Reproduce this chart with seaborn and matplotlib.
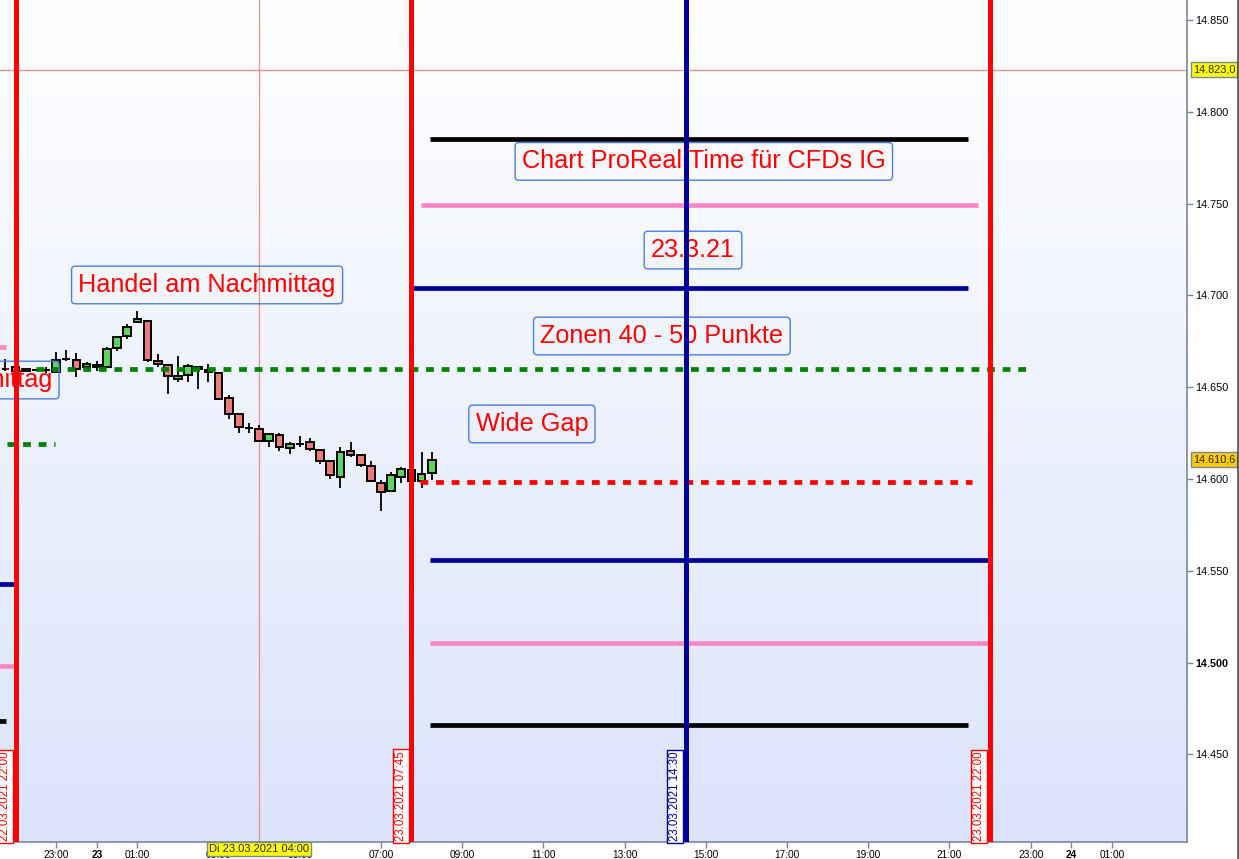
import numpy as np
import matplotlib
matplotlib.use('Agg')
import matplotlib.pyplot as plt
import seaborn as sns
from matplotlib.colors import LinearSegmentedColormap
from matplotlib.lines import Line2D

# 15 min candles, DAX CFD (IG) 22.03.2021 21:45 -> 23.03.2021 08:15
candle_time = ['22 21:45', '22 22:00', '22 22:15', '22 22:30', '22 22:45', '22 23:00', '22 23:15', '22 23:30', '22 23:45',
               '23 00:00', '23 00:15', '23 00:30', '23 00:45', '23 01:00', '23 01:15', '23 01:30', '23 01:45',
               '23 02:00', '23 02:15', '23 02:30', '23 02:45', '23 03:00', '23 03:15', '23 03:30', '23 03:45',
               '23 04:00', '23 04:15', '23 04:30', '23 04:45', '23 05:00', '23 05:15', '23 05:30', '23 05:45',
               '23 06:00', '23 06:15', '23 06:30', '23 06:45', '23 07:00', '23 07:15', '23 07:30', '23 07:45',
               '23 08:00', '23 08:15']
opens = [14660.0, 14661.0, 14658.8, 14659.4, 14659.4, 14658.3, 14665.4, 14664.8, 14661.0,
         14661.0, 14661.0, 14671.4, 14677.9, 14685.5, 14686.1, 14664.3, 14662.1,
         14654.5, 14656.6, 14661.0, 14659.4, 14657.7, 14644.1, 14635.4, 14627.8,
         14627.2, 14620.7, 14624.0, 14616.9, 14619.1, 14620.2, 14615.8, 14609.8,
         14601.1, 14615.3, 14613.1, 14607.1, 14597.8, 14593.5, 14601.1, 14604.9,
         14598.9, 14603.3]
highs = [14665.4, 14661.5, 14660.2, 14660.0, 14661.0, 14669.2, 14670.3, 14668.6, 14664.0,
         14664.3, 14671.9, 14677.9, 14684.4, 14691.5, 14686.5, 14668.1, 14662.6,
         14667.0, 14662.6, 14661.6, 14662.6, 14658.0, 14645.8, 14635.6, 14630.5,
         14629.4, 14625.0, 14625.1, 14620.2, 14623.5, 14622.3, 14616.0, 14610.0,
         14617.4, 14620.2, 14613.3, 14609.8, 14599.5, 14603.8, 14606.5, 14606.0,
         14614.7, 14614.7]
lows = [14659.0, 14658.5, 14658.6, 14658.8, 14657.7, 14658.0, 14664.3, 14655.6, 14659.9,
        14658.8, 14660.5, 14669.7, 14676.3, 14685.0, 14663.7, 14661.0, 14646.3,
        14652.8, 14652.8, 14649.0, 14652.8, 14643.0, 14632.7, 14625.1, 14625.1,
        14620.5, 14617.4, 14615.3, 14613.6, 14617.4, 14615.3, 14608.2, 14600.0,
        14595.1, 14612.0, 14606.5, 14598.7, 14582.6, 14593.3, 14598.0, 14597.5,
        14595.1, 14599.5]
closes = [14659.8, 14658.8, 14659.9, 14659.3, 14659.5, 14664.8, 14665.2, 14659.9, 14662.6,
          14662.1, 14670.8, 14677.3, 14682.8, 14687.1, 14664.8, 14662.6, 14656.1,
          14656.1, 14661.6, 14659.9, 14658.3, 14643.6, 14635.4, 14628.3, 14627.6,
          14620.7, 14624.5, 14617.4, 14619.1, 14619.0, 14616.3, 14609.8, 14602.2,
          14614.7, 14613.1, 14607.6, 14598.9, 14592.9, 14602.2, 14605.5, 14598.9,
          14602.7, 14610.6]

# horizontal zone lines (today) and the cut-off ends of yesterday's lines
level_value = [14785, 14749, 14704, 14660, 14598.4, 14556, 14510.7, 14466,
               14672, 14619, 14543, 14498, 14468]
level_from = ['23 08:12', '23 07:59', '23 07:45', '22 22:30', '23 07:58', '23 08:12', '23 08:12', '23 08:12',
              '22 20:00', '22 21:47', '22 20:00', '22 20:00', '22 20:00']
level_to = ['23 21:27', '23 21:42', '23 21:27', '23 22:56', '23 21:33', '23 21:57', '23 21:57', '23 21:27',
            '22 21:46', '22 22:58', '22 21:57', '22 21:57', '22 21:46']
level_style = ['black', 'pink', 'navy', 'green_dot', 'red_dot', 'navy', 'pink', 'black',
               'pink', 'green_dot', 'navy', 'pink', 'black']

# vertical time markers
vline_time = ['22 22:00', '23 07:45', '23 14:30', '23 22:00']
vline_label = ['22.03.2021 22:00', '23.03.2021 07:45', '23.03.2021 14:30', '23.03.2021 22:00']
vline_color = ['#ff0000', '#ff0000', '#00009c', '#ff0000']

# text notes
note_text = ['Chart ProReal Time für CFDs IG', '23.3.21', 'Handel am Nachmittag',
             'Zonen 40 - 50 Punkte', 'Wide Gap', 'Handel am Nachmittag']
note_time = ['23 14:57', '23 14:41', '23 02:43', '23 13:55', '23 10:43', '22 19:44']
note_value = [14773, 14724.7, 14705.7, 14677.9, 14630, 14653.9]

x_tick_time = ['22 23:00', '23 00:00', '23 01:00', '23 03:00', '23 05:00', '23 07:00', '23 09:00', '23 11:00',
               '23 13:00', '23 15:00', '23 17:00', '23 19:00', '23 21:00', '23 23:00', '24 00:00', '24 01:00']
x_tick_label = ['23:00', '23', '01:00', '03:00', '05:00', '07:00', '09:00', '11:00',
                '13:00', '15:00', '17:00', '19:00', '21:00', '23:00', '24', '01:00']
y_ticks = [14450, 14500, 14550, 14600, 14650, 14700, 14750, 14800, 14850]
y_tick_label = ['14.450', '14.500', '14.550', '14.600', '14.650', '14.700', '14.750', '14.800', '14.850']

cross_time = '23 04:00'
cross_value = 14823.0
last_price = 14610.6
x_range = ['22 21:37', '24 02:51']
y_range = [14402.3, 14860.9]


def to_h(s):
    day, hm = s.split()
    hh, mm = hm.split(':')
    return (int(day) - 23) * 24 + int(hh) + int(mm) / 60


def de_num(v):
    return f'{v:,.1f}'.replace(',', 'X').replace('.', ',').replace('X', '.')


sns.set_theme(style='white')
plt.rcParams['font.family'] = ['Liberation Sans', 'DejaVu Sans']

fig, ax = plt.subplots(figsize=(12.39, 8.59), dpi=100)
fig.subplots_adjust(left=0, right=1187 / 1239, bottom=17 / 859, top=1)

# background gradient
cmap = LinearSegmentedColormap.from_list('bg', ['#ffffff', '#dbe4fb'])
grad = np.linspace(0, 1, 256).reshape(-1, 1)
ax.imshow(grad, cmap=cmap, extent=[0, 1, 0, 1], transform=ax.transAxes, aspect='auto', zorder=0)

# crosshair
ax.axhline(cross_value, color='#f08c8c', lw=0.9, zorder=1)
ax.axvline(to_h(cross_time), color='#f08c8c', lw=0.9, zorder=1)

# candles
x = np.array([to_h(t) for t in candle_time])
o = np.array(opens)
c = np.array(closes)
body_lo = np.minimum(o, c)
body_h = np.maximum(np.abs(c - o), 0.15)
colors = ['#5cd65c' if cc > oo else '#ec7b7b' for oo, cc in zip(o, c)]
ax.vlines(x, lows, highs, color='black', lw=1.3, zorder=3)
ax.bar(x, body_h, bottom=body_lo, width=0.19, color=colors, edgecolor='black', linewidth=1.4, zorder=4)

# levels
styles = {
    'black': dict(color='black'),
    'pink': dict(color='#ff88c6'),
    'navy': dict(color='#00009c'),
    'green_dot': dict(color='#008000', dashes=(1.65, 1.65)),
    'red_dot': dict(color='#ff0000', dashes=(1.65, 1.65)),
}
for v, t0, t1, st in zip(level_value, level_from, level_to, level_style):
    kw = dict(styles[st])
    ax.plot([to_h(t0), to_h(t1)], [v, v], lw=3.4, solid_capstyle='butt', dash_capstyle='butt',
            zorder=5, **kw)

# notes
for s, t, v in zip(note_text, note_time, note_value):
    ax.text(to_h(t), v, s, fontsize=18.2, color='#ff0000', ha='center', va='center', zorder=6, clip_on=True,
            bbox=dict(boxstyle='round,pad=0.27,rounding_size=0.15', facecolor='none', edgecolor='#4a7fe0', lw=1))

# vertical markers
for t, lab, col in zip(vline_time, vline_label, vline_color):
    ax.axvline(to_h(t), color=col, lw=3.6, zorder=8)
    ax.annotate(lab, xy=(to_h(t), 0), xycoords=('data', 'axes fraction'), xytext=(-3.5, 0.5),
                textcoords='offset points', rotation=90, ha='right', va='bottom', fontsize=8.3, color=col,
                annotation_clip=False, zorder=9,
                bbox=dict(boxstyle='square,pad=0.18', facecolor='white', edgecolor=col, lw=1))

ax.set_xlim(to_h(x_range[0]), to_h(x_range[1]))
ax.set_ylim(*y_range)

# axes styling
ax.yaxis.tick_right()
ax.set_yticks(y_ticks)
ax.set_yticklabels(y_tick_label)
ax.set_xticks([to_h(t) for t in x_tick_time])
ax.set_xticklabels(x_tick_label)
for lab in ax.get_xticklabels():
    if len(lab.get_text()) == 2:
        lab.set_fontweight('bold')
        lab.set_fontsize(8.5)
for lab in ax.get_yticklabels():
    if lab.get_text() == '14.500':
        lab.set_fontweight('bold')
        lab.set_fontsize(8)
ax.tick_params(axis='y', which='both', right=True, left=False, direction='out', length=4, width=1,
               color='#7a8896', labelsize=7.8, pad=2, labelcolor='black')
ax.tick_params(axis='x', which='both', bottom=True, direction='out', length=4, width=1,
               color='#7a8896', labelsize=7.3, pad=2, labelcolor='black')
for side in ['left', 'top']:
    ax.spines[side].set_visible(False)
for side in ['right', 'bottom']:
    ax.spines[side].set_color('#7a8896')
    ax.spines[side].set_linewidth(1.2)
ax.grid(False)

# price / time tags
ax.text(1.005, cross_value, de_num(cross_value),
        transform=ax.get_yaxis_transform(), ha='left', va='center', fontsize=7.8, zorder=10, clip_on=False,
        bbox=dict(boxstyle='square,pad=0.2', facecolor='#ffff00', edgecolor='#7a8896', lw=1))
ax.text(1.005, last_price, de_num(last_price),
        transform=ax.get_yaxis_transform(), ha='left', va='center', fontsize=7.8, zorder=10, clip_on=False,
        bbox=dict(boxstyle='square,pad=0.2', facecolor='#ffcc00', edgecolor='#7a8896', lw=1))
ax.text(to_h(cross_time), -0.002, 'Di 23.03.2021 04:00', transform=ax.get_xaxis_transform(),
        ha='center', va='top', fontsize=8.0, zorder=10, clip_on=False,
        bbox=dict(boxstyle='square,pad=0.18', facecolor='#ffff00', edgecolor='#7a8896', lw=1))

fig.add_artist(Line2D([0.9988, 0.9988], [0, 1], transform=fig.transFigure, color='#4d4d4d', lw=1.2))

fig.savefig('out.png', dpi=100, facecolor='white')
plt.close(fig)
